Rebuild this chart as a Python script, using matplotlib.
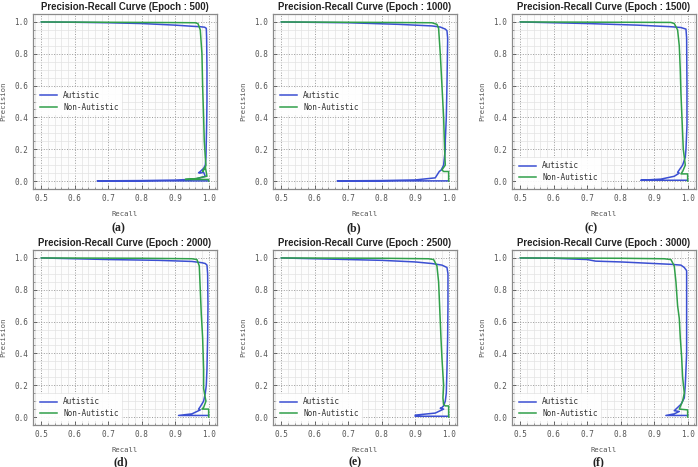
import matplotlib
matplotlib.use("Agg")
import matplotlib.pyplot as plt
from matplotlib.ticker import MultipleLocator

epochs = [500, 1000, 1500, 2000, 2500, 3000]
captions = ["(a)", "(b)", "(c)", "(d)", "(e)", "(f)"]
class_names = ["Autistic", "Non-Autistic"]

# Epoch 500
rec_aut_500 = [0.5, 0.6, 0.7, 0.8, 0.9, 0.95, 0.975, 0.988, 0.993, 0.994, 0.995, 0.995, 0.994, 0.993, 0.992, 0.99, 0.985, 0.975, 0.97, 0.975, 0.985, 0.99, 0.96, 0.9, 0.8, 0.667, 0.8, 0.9, 1.0]
prec_aut_500 = [1.0, 0.998, 0.995, 0.99, 0.98, 0.973, 0.970, 0.967, 0.96, 0.9, 0.7, 0.5, 0.35, 0.25, 0.15, 0.1, 0.08, 0.06, 0.052, 0.05, 0.055, 0.03, 0.012, 0.006, 0.003, 0.001, 0.001, 0.001, 0.001]
rec_non_500 = [0.5, 0.7, 0.9, 0.96, 0.968, 0.975, 0.98, 0.982, 0.985, 0.987, 0.99, 0.992, 0.99, 0.982, 0.99, 0.995, 0.96, 0.93, 1.0, 1.0]
prec_non_500 = [1.0, 0.998, 0.996, 0.995, 0.99, 0.95, 0.8, 0.6, 0.4, 0.25, 0.15, 0.1, 0.085, 0.06, 0.09, 0.03, 0.015, 0.01, 0.01, 0.0]

# Epoch 1000
rec_aut_1000 = [0.5, 0.7, 0.85, 0.95, 0.975, 0.99, 0.995, 0.997, 0.997, 0.995, 0.993, 0.99, 0.99, 0.985, 0.978, 0.972, 0.96, 0.9, 0.8, 0.667, 0.8, 0.9, 1.0]
prec_aut_1000 = [1.0, 0.995, 0.985, 0.975, 0.968, 0.955, 0.945, 0.9, 0.88, 0.6, 0.4, 0.25, 0.2, 0.1, 0.07, 0.06, 0.02, 0.007, 0.003, 0.001, 0.001, 0.001, 0.001]
rec_non_1000 = [0.5, 0.8, 0.95, 0.965, 0.97, 0.975, 0.98, 0.985, 0.988, 0.99, 0.98, 0.985, 1.0, 1.0]
prec_non_1000 = [1.0, 0.997, 0.995, 0.985, 0.96, 0.8, 0.6, 0.4, 0.2, 0.1, 0.07, 0.06, 0.06, 0.0]

# Epoch 1500
rec_aut_1500 = [0.5, 0.7, 0.85, 0.95, 0.98, 0.995, 0.997, 0.998, 0.998, 0.995, 0.993, 0.985, 0.975, 0.97, 0.975, 0.96, 0.92, 0.86, 0.93, 1.0]
prec_aut_1500 = [1.0, 0.99, 0.98, 0.97, 0.965, 0.955, 0.9, 0.6, 0.35, 0.2, 0.15, 0.1, 0.07, 0.055, 0.05, 0.03, 0.012, 0.005, 0.005, 0.005]
rec_non_1500 = [0.5, 0.8, 0.95, 0.96, 0.97, 0.975, 0.978, 0.98, 0.982, 0.985, 0.987, 0.99, 0.993, 0.985, 0.98, 1.0, 1.0]
prec_non_1500 = [1.0, 0.998, 0.997, 0.99, 0.95, 0.85, 0.7, 0.55, 0.45, 0.3, 0.2, 0.15, 0.1, 0.06, 0.045, 0.045, 0.0]

# Epoch 2000
rec_aut_2000 = [0.5, 0.7, 0.85, 0.95, 0.98, 0.99, 0.995, 0.997, 0.998, 0.997, 0.995, 0.993, 0.99, 0.985, 0.975, 0.97, 0.975, 0.95, 0.91, 0.95, 1.0]
prec_aut_2000 = [1.0, 0.99, 0.985, 0.978, 0.97, 0.965, 0.955, 0.9, 0.7, 0.5, 0.3, 0.2, 0.15, 0.1, 0.065, 0.05, 0.045, 0.02, 0.01, 0.01, 0.01]
rec_non_2000 = [0.5, 0.8, 0.95, 0.965, 0.972, 0.975, 0.978, 0.982, 0.985, 0.985, 0.99, 0.992, 0.985, 0.98, 1.0, 1.0]
prec_non_2000 = [1.0, 0.998, 0.995, 0.99, 0.95, 0.8, 0.65, 0.5, 0.3, 0.18, 0.12, 0.1, 0.06, 0.05, 0.05, 0.0]

# Epoch 2500
rec_aut_2500 = [0.5, 0.7, 0.8, 0.9, 0.95, 0.98, 0.995, 0.998, 0.998, 0.997, 0.995, 0.993, 0.99, 0.985, 0.98, 0.975, 0.985, 0.96, 0.9, 0.9, 0.95, 1.0]
prec_aut_2500 = [1.0, 0.99, 0.985, 0.975, 0.965, 0.955, 0.94, 0.9, 0.7, 0.5, 0.3, 0.15, 0.1, 0.07, 0.06, 0.055, 0.05, 0.025, 0.012, 0.005, 0.005, 0.005]
rec_non_2500 = [0.5, 0.8, 0.94, 0.955, 0.965, 0.97, 0.973, 0.977, 0.98, 0.985, 0.983, 0.985, 0.99, 1.0, 1.0]
prec_non_2500 = [1.0, 0.998, 0.995, 0.99, 0.95, 0.85, 0.7, 0.5, 0.37, 0.2, 0.12, 0.08, 0.07, 0.07, 0.0]

# Epoch 3000
rec_aut_3000 = [0.5, 0.6, 0.7, 0.725, 0.8, 0.9, 0.95, 0.98, 0.99, 0.997, 0.997, 0.997, 0.995, 0.993, 0.99, 0.98, 0.965, 0.96, 0.975, 0.96, 0.935, 1.0]
prec_aut_3000 = [1.0, 0.998, 0.99, 0.98, 0.975, 0.965, 0.96, 0.955, 0.94, 0.92, 0.7, 0.4, 0.3, 0.2, 0.12, 0.08, 0.05, 0.04, 0.035, 0.02, 0.01, 0.01]
rec_non_3000 = [0.5, 0.8, 0.93, 0.95, 0.96, 0.965, 0.97, 0.975, 0.978, 0.982, 0.985, 0.99, 0.985, 0.975, 1.0, 1.0]
prec_non_3000 = [1.0, 0.998, 0.995, 0.99, 0.95, 0.85, 0.7, 0.62, 0.5, 0.38, 0.25, 0.15, 0.1, 0.05, 0.045, 0.0]

aut_recall = [rec_aut_500, rec_aut_1000, rec_aut_1500, rec_aut_2000, rec_aut_2500, rec_aut_3000]
aut_precision = [prec_aut_500, prec_aut_1000, prec_aut_1500, prec_aut_2000, prec_aut_2500, prec_aut_3000]
non_recall = [rec_non_500, rec_non_1000, rec_non_1500, rec_non_2000, rec_non_2500, rec_non_3000]
non_precision = [prec_non_500, prec_non_1000, prec_non_1500, prec_non_2000, prec_non_2500, prec_non_3000]

BLUE = "#3b4fd2"
GREEN = "#31a04a"
MONO = "DejaVu Sans Mono"

W, H = 698, 467
fig = plt.figure(figsize=(W / 100, H / 100), dpi=100)
fig.patch.set_facecolor("white")

lefts = [33, 273, 512]
tops = [14, 250]
aw, ah = 184, 175
cap_x = [[118, 354, 591], [121, 355, 598]]
cap_y = [228, 462]

for i in range(6):
    r, c = divmod(i, 3)
    ax = fig.add_axes([lefts[c] / W, 1 - (tops[r] + ah) / H, aw / W, ah / H])
    ax.set_facecolor("#fdfdfd")
    ax.plot(aut_recall[i], aut_precision[i], color=BLUE, lw=1.1, label=class_names[0])
    ax.plot(non_recall[i], non_precision[i], color=GREEN, lw=1.1, label=class_names[1])
    ax.margins(0.05)
    ax.xaxis.set_major_locator(MultipleLocator(0.1))
    ax.xaxis.set_minor_locator(MultipleLocator(0.02))
    ax.yaxis.set_major_locator(MultipleLocator(0.2))
    ax.yaxis.set_minor_locator(MultipleLocator(0.05))
    ax.grid(which="major", color="#9a9a9a", ls=":", lw=0.7)
    ax.grid(which="minor", color="#e2e2e2", ls="-", lw=0.5)
    ax.set_axisbelow(True)
    for s in ax.spines.values():
        s.set_color("#8a8a8a")
        s.set_linewidth(0.9)
    ax.tick_params(which="both", direction="in", colors="#555555", labelsize=5.5,
                   top=False, right=False)
    ax.tick_params(which="major", length=3, width=0.6)
    ax.tick_params(which="minor", length=1.5, width=0.4)
    ax.xaxis.set_major_formatter(plt.FuncFormatter(lambda v, p: f"{v:.1f}"))
    ax.yaxis.set_major_formatter(plt.FuncFormatter(lambda v, p: f"{v:.1f}"))
    for lab in ax.get_xticklabels() + ax.get_yticklabels():
        lab.set_fontfamily(MONO)
    ax.set_xlabel("Recall", fontfamily=MONO, fontsize=5.2, color="#555555", labelpad=6)
    ax.set_ylabel("Precision", fontfamily=MONO, fontsize=5.2, color="#555555", labelpad=6)
    ax.set_title(f"Precision-Recall Curve (Epoch : {epochs[i]})", fontfamily="Liberation Sans",
                 fontweight="bold", fontsize=6.9, color="#222222", pad=3)
    if i < 2:
        leg = ax.legend(loc="center left", bbox_to_anchor=(0.0, 0.5), prop={"family": MONO, "size": 5.6},
                        frameon=True, handlelength=2.2, labelspacing=0.35)
    else:
        leg = ax.legend(loc="lower left", prop={"family": MONO, "size": 5.6},
                        frameon=True, handlelength=2.2, labelspacing=0.35)
    leg.get_frame().set_facecolor("white")
    leg.get_frame().set_edgecolor("none")
    leg.get_frame().set_alpha(0.9)
    for t in leg.get_texts():
        t.set_color("#333333")
    fig.text(cap_x[r][c] / W, 1 - cap_y[r] / H, captions[i], ha="center", va="center",
             fontfamily="Liberation Serif", fontweight="bold", fontsize=8.5, color="#222222")

fig.savefig("out.png", dpi=100)
